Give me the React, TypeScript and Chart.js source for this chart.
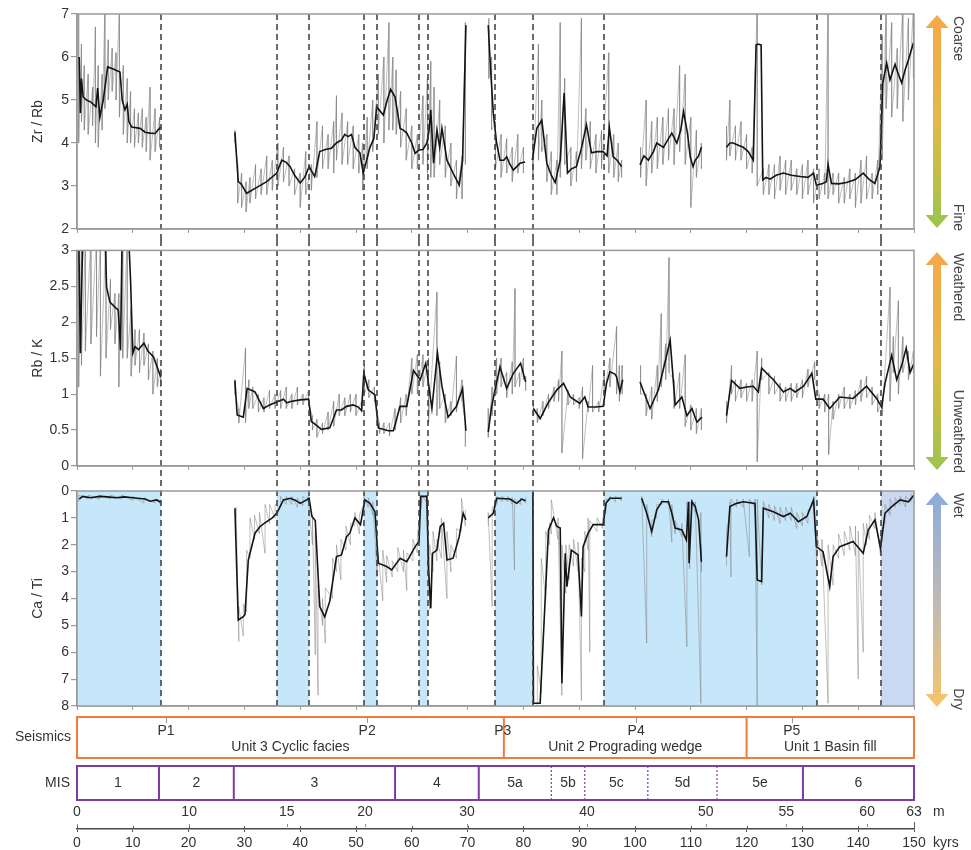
import React, { useEffect, useRef } from 'react';
import { Chart, registerables } from 'chart.js';

Chart.register(...registerables);

const FONT = "'Liberation Sans', Arial, Helvetica, sans-serif";
const TXT = '#333333';
const AXIS = '#9a9a9a';

type P = [number, number | null];
type R = [number, number | null, number | null];

// ---------- Zr / Rb (kyrs, value) ----------
const ZR_RB_LINE: P[] = [
  [0.4, 6.0], [0.6, 4.7], [0.8, 5.5], [1.1, 5.07], [1.7, 5.0], [2.5, 4.95], [3.4, 4.84], [3.7, 5.28], [4.1, 4.6], [4.7, 5.0],
  [5.5, 5.77], [6.5, 5.72], [7.7, 5.65], [8.1, 5.0], [8.6, 4.77], [9.0, 4.9], [9.3, 4.5], [9.8, 4.37], [11.3, 4.34], [12.2, 4.25],
  [13.1, 4.23], [14.0, 4.22], [14.5, 4.3], [15.0, 4.37],
  [20, null],
  [28.3, 4.25], [28.9, 3.1], [29.4, 3.05], [30.4, 2.83], [32, 2.95], [34, 3.1], [35.8, 3.3], [36.7, 3.6], [37.5, 3.55], [38.2, 3.45],
  [39, 3.25], [40, 3.07], [40.8, 3.2], [41.6, 3.45], [42.6, 3.22], [43.5, 3.8], [44.5, 3.85], [45.6, 3.88], [46.5, 4.0], [47.4, 4.07],
  [48.0, 4.2], [48.6, 4.15], [49.2, 4.2], [49.8, 3.9], [50.7, 3.77], [51.3, 3.3], [52.5, 3.9], [53.2, 4.1], [53.7, 4.84], [54.9, 4.65],
  [55.6, 5.0], [56.2, 5.25], [57, 5.07], [57.9, 4.34], [58.5, 4.3], [59.1, 4.23], [60.0, 4.0], [60.6, 3.76], [61.3, 3.84], [62.0, 3.85],
  [62.7, 4.0], [63.1, 4.3], [63.4, 4.77], [63.9, 3.53], [64.5, 4.3], [65.0, 3.9], [65.4, 4.34], [66.3, 3.6], [67.4, 3.3], [68.5, 3.02],
  [69.1, 3.6], [69.7, 6.74],
  [71, null],
  [73.7, 6.74], [74.0, 6.0], [74.1, 5.77], [74.6, 4.7], [75.2, 4.0], [75.8, 3.6], [76.5, 3.6], [77.0, 3.68], [77.6, 3.5], [78.2, 3.37],
  [78.8, 3.45], [79.4, 3.53], [80.3, 3.56],
  [81, null],
  [81.6, 3.6], [82.4, 4.34], [83.3, 4.53], [84.2, 3.53], [85.0, 3.25], [85.7, 3.08], [86.6, 3.6], [87.3, 5.16], [87.9, 3.3], [88.6, 3.4],
  [89.5, 3.45], [90.4, 3.88], [91.3, 4.42], [92.2, 3.77], [93.2, 3.8], [94.3, 3.8], [95.0, 3.7], [95.4, 4.37], [96.1, 3.68], [96.8, 3.6],
  [97.6, 3.45],
  [99, null],
  [100.9, 3.49], [101.6, 3.7], [102.4, 3.6], [103.3, 3.8], [103.9, 4.0], [105.1, 3.9], [106.0, 4.1], [106.6, 4.23], [107.5, 4.0], [108.2, 4.3],
  [108.7, 4.73], [109.4, 4.23], [109.9, 3.68], [110.4, 3.45], [110.8, 3.6], [111.4, 3.7], [111.9, 3.9],
  [114, null],
  [116.4, 3.9], [117.0, 4.0], [117.6, 4.0], [118.5, 3.95], [119.4, 3.9], [120.3, 3.8], [121.2, 3.6], [121.7, 6.28], [122.0, 6.3], [122.6, 6.28],
  [122.9, 3.14], [123.5, 3.2], [124.2, 3.16], [125.3, 3.25], [126.6, 3.3], [128.0, 3.25], [129.6, 3.22], [131.0, 3.2], [132.0, 3.3], [132.5, 3.02],
  [133.5, 3.05], [134.3, 3.1], [134.6, 3.5], [135.2, 3.06], [136.5, 3.05], [137.9, 3.08], [139.5, 3.15], [140.9, 3.3], [142.0, 3.15], [143.0, 3.06],
  [143.9, 3.45], [144.4, 5.39], [145.1, 5.86], [145.7, 5.47], [146.6, 5.83], [147.2, 5.6], [147.8, 5.4], [148.4, 5.7], [149.0, 5.93], [149.9, 6.33],
];

// raw Zr/Rb scan: (kyrs, low, high)
const ZR_RB_RAW: R[] = [
  [0.3, 4.0, 7.2], [0.8, 4.5, 6.3], [1.3, 4.3, 5.8], [2.0, 4.2, 5.6], [2.8, 4.4, 5.3], [3.3, 4.0, 6.7], [3.8, 3.9, 5.8], [4.5, 4.3, 5.6],
  [5.0, 4.8, 7.2], [5.6, 5.0, 6.4], [6.3, 5.2, 6.2], [7.0, 5.0, 6.1], [7.6, 4.6, 7.2], [8.3, 4.2, 5.8], [9.0, 4.0, 5.5], [9.6, 4.0, 5.2],
  [10.3, 3.9, 4.8], [11.0, 4.0, 4.7], [11.7, 3.9, 4.8], [12.4, 3.8, 4.6], [13.1, 3.6, 5.3], [14.0, 3.8, 4.8], [14.8, 3.9, 4.6],
  [20, null, null],
  [28.3, 4.0, 4.3], [28.8, 2.6, 3.5], [29.5, 2.5, 3.3], [30.3, 2.4, 3.1], [31.0, 2.6, 3.2], [32.0, 2.7, 3.5], [33.0, 2.8, 3.4], [34.0, 2.8, 3.7],
  [35.0, 2.9, 3.6], [36.0, 3.0, 4.0], [37.0, 3.1, 3.9], [38.0, 3.0, 3.7], [39.0, 2.8, 3.4], [40.0, 2.5, 3.3], [41.0, 2.8, 3.8], [42.0, 2.9, 3.5],
  [43.0, 3.2, 4.5], [44.0, 3.4, 4.4], [45.0, 3.4, 4.2], [46.0, 3.3, 4.5], [46.5, 3.6, 5.1], [47.5, 3.5, 4.7], [48.5, 3.5, 4.5], [49.5, 3.4, 4.4],
  [50.5, 3.3, 4.2], [51.2, 2.9, 4.0], [52.0, 3.4, 4.6], [53.0, 3.8, 5.0], [54.0, 4.2, 5.6], [55.0, 4.0, 6.0], [55.9, 4.3, 6.8], [56.6, 4.3, 6.0],
  [57.2, 4.2, 5.7], [58.0, 3.9, 5.2], [59.0, 3.6, 4.8], [60.0, 3.4, 4.4], [61.0, 3.4, 4.2], [62.0, 3.5, 5.1], [62.8, 3.3, 5.5], [63.4, 3.2, 5.9],
  [64.0, 3.2, 5.3], [65.0, 3.5, 5.0], [66.0, 3.2, 4.4], [67.0, 3.0, 4.0], [68.0, 2.7, 3.6], [69.0, 2.7, 3.7], [69.6, 3.5, 6.8],
  [71, null, null],
  [73.8, 5.5, 6.9], [74.3, 4.3, 6.0], [75.0, 3.4, 4.5], [76.0, 3.2, 4.2], [77.0, 3.3, 4.1], [78.0, 3.1, 3.9], [79.0, 3.3, 4.2], [80.0, 3.3, 3.9],
  [81, null, null],
  [81.7, 3.2, 4.1], [82.7, 3.6, 6.3], [83.3, 3.8, 5.0], [84.2, 3.1, 4.2], [85.0, 2.8, 3.8], [86.0, 2.8, 3.6], [86.6, 3.2, 6.8], [87.4, 3.5, 5.5],
  [88.5, 3.0, 3.9], [89.5, 3.1, 3.8], [90.4, 3.4, 6.9], [91.2, 3.6, 4.8], [92.0, 3.4, 4.5], [93.0, 3.3, 4.2], [94.0, 3.4, 4.3], [95.3, 3.3, 6.1],
  [96.2, 3.2, 4.2], [97.0, 3.1, 4.0], [97.6, 3.2, 3.6],
  [99, null, null],
  [101.0, 3.2, 3.9], [102.0, 3.0, 5.0], [103.0, 3.3, 4.5], [104.0, 3.4, 4.6], [105.0, 3.5, 4.6], [106.0, 3.6, 4.8], [107.0, 3.5, 4.8],
  [108.0, 3.8, 5.8], [109.0, 3.5, 5.6], [110.0, 2.5, 4.6], [111.0, 3.2, 4.3], [111.9, 3.4, 4.0],
  [114, null, null],
  [116.4, 3.6, 4.4], [117.0, 3.7, 5.0], [118.0, 3.6, 4.4], [119.0, 3.6, 4.5], [120.0, 3.4, 4.2], [121.0, 3.3, 3.9], [121.9, 3.0, 7.2],
  [123.0, 2.8, 3.4], [124.0, 2.8, 3.5], [125.0, 2.7, 3.5], [126.0, 2.9, 3.7], [127.0, 2.8, 3.6], [128.0, 2.9, 3.6], [129.0, 2.8, 3.4],
  [130.0, 2.7, 3.5], [131.0, 2.8, 3.6], [132.0, 2.6, 3.4], [133.0, 2.7, 3.4], [134.0, 2.8, 3.3], [134.6, 2.7, 7.2], [135.5, 2.8, 3.3],
  [136.5, 2.6, 3.3], [137.5, 2.6, 3.2], [138.5, 2.7, 3.4], [139.5, 2.5, 3.3], [140.5, 2.6, 3.6], [141.5, 2.7, 3.7], [142.5, 2.7, 3.3],
  [143.5, 2.8, 3.6], [144.3, 3.6, 6.5], [145.0, 4.8, 7.2], [146.0, 4.6, 6.8], [147.0, 4.8, 6.2], [148.0, 4.5, 7.2], [149.0, 5.0, 6.9], [149.9, 5.5, 7.2],
];

// ---------- Rb / K ----------
const RB_K_LINE: P[] = [
  [0.3, 3.3], [0.6, 1.57], [0.9, 2.7], [1.1, 3.3], [3.0, 3.4], [5.0, 3.3], [5.3, 2.49], [5.9, 2.28], [6.8, 2.21], [7.4, 2.17],
  [7.8, 1.61], [8.1, 3.3], [9.2, 3.3], [9.6, 2.58], [10.0, 1.57], [10.4, 1.66], [11.0, 1.62], [12.0, 1.71], [12.7, 1.6], [13.7, 1.52], [15.0, 1.24],
  [20, null],
  [28.3, 1.19], [28.7, 0.71], [29.8, 0.68], [30.5, 1.08], [31.9, 1.03], [33.4, 0.8], [34.5, 0.85], [35.8, 0.89], [37.0, 0.93], [37.6, 0.88],
  [38.5, 0.9], [40.0, 0.92], [41.5, 0.93], [42.0, 0.62], [42.7, 0.58], [43.8, 0.51], [45.3, 0.53], [46.5, 0.78], [47.4, 0.78], [48.3, 0.83],
  [49.5, 0.85], [50.4, 0.82], [51.0, 0.77], [51.4, 1.29], [52.2, 1.06], [53.4, 0.99], [54.0, 0.53], [55.8, 0.49], [56.7, 0.49], [57.9, 0.83],
  [59.1, 0.83], [60.3, 1.33], [61.5, 1.2], [62.5, 1.43], [63.6, 0.8], [64.6, 1.57], [65.4, 1.11], [66.5, 0.68], [68.0, 0.83], [69.1, 1.08], [69.7, 0.49],
  [71, null],
  [73.7, 0.47], [74.3, 0.83], [75.8, 1.38], [77.0, 1.08], [78.2, 1.29], [79.5, 1.43], [80.4, 1.17],
  [81, null],
  [81.8, 0.8], [83.0, 0.66], [84.5, 0.89], [86.0, 1.06], [87.2, 1.15], [88.4, 0.96], [90.1, 0.87], [91.0, 0.96], [91.6, 0.82], [93.0, 0.82],
  [94.3, 0.83], [94.9, 1.15], [95.5, 1.31], [96.4, 1.28], [96.7, 1.24], [97.3, 1.03], [97.8, 1.2],
  [99, null],
  [100.9, 1.17], [102.7, 0.8], [104.2, 1.06], [105.4, 1.45], [106.3, 1.75], [107.2, 0.85], [108.4, 0.96], [109.3, 0.7], [110.2, 0.8], [111.1, 0.61], [112.0, 0.68],
  [114, null],
  [116.4, 0.7], [117.3, 1.19], [118.8, 1.08], [120.0, 1.1], [121.2, 1.11], [122.1, 1.03], [122.7, 1.36], [124.8, 1.2], [126.6, 1.03], [127.8, 1.08],
  [128.7, 1.03], [130.2, 1.11], [131.7, 1.29], [132.4, 0.93], [133.7, 0.93], [134.9, 0.8], [136.7, 0.96], [139.1, 0.94], [141.5, 1.11], [143.3, 0.94],
  [144.2, 0.82], [144.8, 1.15], [146.0, 1.54], [146.9, 1.2], [147.8, 1.4], [148.6, 1.64], [149.3, 1.3], [150.0, 1.43],
];

const RB_K_RAW: R[] = [
  [0.3, 1.1, 3.2], [0.8, 1.4, 3.2], [1.5, 1.6, 3.2], [2.5, 1.7, 3.2], [3.5, 1.8, 3.2], [4.2, 1.25, 3.2], [5.2, 1.5, 3.2], [6.0, 1.9, 2.6],
  [6.8, 1.7, 2.4], [7.5, 1.1, 2.4], [8.2, 1.5, 3.2], [9.0, 1.5, 3.2], [9.7, 1.25, 2.2], [10.4, 1.4, 1.9], [11.2, 1.3, 1.9], [12.0, 1.4, 1.85],
  [12.8, 1.2, 1.7], [13.6, 1.0, 1.6], [14.4, 1.1, 1.5], [15.0, 1.1, 1.35],
  [20, null, null],
  [28.3, 1.0, 1.2], [29.0, 0.6, 0.8], [30.2, 0.6, 1.64], [30.8, 0.8, 1.2], [31.5, 0.8, 1.1], [32.5, 0.75, 1.0], [33.5, 0.75, 0.95], [34.5, 0.8, 1.05],
  [35.5, 0.8, 1.0], [36.5, 0.8, 1.05], [37.5, 0.8, 1.1], [38.5, 0.8, 1.0], [39.5, 0.85, 1.1], [40.5, 0.85, 1.0], [41.5, 0.85, 1.05], [42.2, 0.5, 0.7],
  [43.0, 0.4, 0.65], [44.0, 0.45, 0.6], [45.0, 0.5, 0.75], [46.0, 0.55, 0.9], [47.0, 0.7, 1.0], [48.0, 0.7, 0.95], [49.0, 0.75, 1.0], [50.0, 0.7, 1.0],
  [51.0, 0.75, 0.9], [51.5, 1.0, 1.4], [52.3, 0.95, 1.2], [53.3, 0.9, 1.1], [54.2, 0.45, 0.6], [55.0, 0.45, 0.6], [56.0, 0.42, 0.6], [57.0, 0.5, 0.8],
  [58.0, 0.6, 0.95], [59.0, 0.7, 1.0], [60.0, 1.0, 1.5], [61.0, 1.0, 1.55], [62.0, 1.1, 1.55], [63.0, 0.6, 1.5], [64.5, 0.7, 2.42], [65.0, 0.8, 1.45],
  [66.0, 0.6, 1.0], [67.0, 0.7, 0.9], [68.0, 0.75, 1.53], [69.0, 0.9, 1.2], [69.6, 0.27, 0.6],
  [71, null, null],
  [73.7, 0.4, 0.8], [74.4, 0.7, 1.1], [75.2, 1.0, 1.5], [76.0, 1.1, 1.5], [77.0, 0.95, 1.3], [78.0, 1.0, 1.45], [78.5, 1.1, 2.47], [79.3, 1.1, 1.3],
  [80.0, 1.2, 1.5], [80.4, 1.05, 1.25],
  [81, null, null],
  [81.8, 0.7, 0.9], [82.5, 0.6, 0.8], [83.5, 0.7, 0.9], [84.5, 0.8, 1.0], [85.5, 0.9, 1.1], [86.3, 0.9, 1.2], [86.9, 0.18, 1.6], [88.0, 0.85, 1.05],
  [89.0, 0.85, 1.0], [90.0, 0.8, 0.95], [90.6, 0.1, 1.1], [91.6, 0.75, 0.9], [92.4, 0.75, 1.4], [93.5, 0.75, 0.9], [94.5, 1.0, 1.3], [95.5, 1.1, 1.5],
  [96.7, 1.0, 1.94], [97.2, 0.9, 1.4], [97.7, 1.0, 1.4],
  [99, null, null],
  [101.0, 1.0, 1.4], [102.0, 0.7, 1.0], [103.0, 0.65, 1.1], [104.0, 0.9, 1.4], [104.7, 1.1, 2.12], [105.5, 1.2, 1.7], [106.1, 1.3, 2.9], [107.0, 0.8, 1.2],
  [108.0, 0.8, 1.3], [109.0, 0.55, 1.55], [110.0, 0.5, 0.85], [111.0, 0.45, 0.8], [111.9, 0.5, 0.8],
  [114, null, null],
  [116.4, 0.6, 0.9], [117.3, 1.0, 1.4], [118.0, 0.9, 1.2], [119.0, 0.95, 1.2], [120.0, 0.9, 1.15], [121.0, 0.9, 1.2], [121.9, 0.06, 1.6], [122.7, 1.2, 1.5],
  [124.0, 1.0, 1.3], [125.0, 1.0, 1.25], [126.0, 0.9, 1.15], [127.0, 0.9, 1.1], [128.0, 0.9, 1.15], [129.0, 0.95, 1.15], [130.0, 0.95, 1.2], [131.0, 1.1, 1.35],
  [132.2, 1.2, 1.45], [133.0, 0.8, 1.0], [134.0, 0.75, 1.0], [134.7, 0.16, 1.0], [135.5, 0.65, 0.9], [136.5, 0.8, 1.0], [137.5, 0.8, 1.1], [138.5, 0.8, 1.0],
  [139.5, 0.85, 1.05], [140.5, 0.9, 1.2], [141.5, 0.95, 1.25], [142.5, 0.85, 1.1], [143.5, 0.75, 1.0], [144.3, 0.7, 0.9], [145.7, 0.9, 2.49], [146.3, 1.3, 1.8],
  [147.2, 1.0, 2.3], [148.0, 1.3, 1.8], [149.0, 1.2, 1.6], [149.9, 1.3, 1.6],
];

// ---------- Ca / Ti ----------
const CA_TI_LINE: P[] = [
  [0.4, 0.3], [1.0, 0.2], [2.5, 0.25], [4.0, 0.2], [5.5, 0.22], [7.0, 0.25], [8.5, 0.22], [10.0, 0.25], [11.3, 0.28], [12.2, 0.3],
  [13.1, 0.38], [14.3, 0.33], [15.0, 0.42],
  [20, null],
  [28.3, 0.64], [28.9, 4.8], [29.8, 4.68], [30.1, 4.6], [30.7, 2.57], [31.9, 1.57], [32.8, 1.32], [34.0, 1.14], [35.0, 1.0], [35.8, 0.83],
  [37.0, 0.33], [38.2, 0.27], [39.2, 0.35], [40.0, 0.46], [41.0, 0.35], [41.6, 0.27], [42.1, 0.95], [42.7, 1.1], [43.5, 4.3], [44.4, 4.68],
  [45.3, 4.1], [46.5, 2.44], [47.4, 2.38], [48.3, 1.7], [48.9, 1.57], [49.8, 1.0], [50.8, 1.25], [51.6, 0.33], [52.5, 0.46], [53.4, 0.77],
  [54.0, 2.69], [55.5, 2.81], [56.4, 2.94], [57.9, 2.5], [59.1, 2.63], [60.6, 2.07], [61.3, 1.88], [61.6, 0.2], [62.7, 0.2], [63.0, 2.94],
  [63.4, 4.36], [63.7, 2.32], [64.5, 2.2], [65.1, 1.32], [65.7, 1.2], [66.3, 2.57], [67.4, 2.5], [68.5, 1.7], [69.2, 0.83], [69.7, 1.07],
  [71, null],
  [73.7, 1.0], [74.6, 0.83], [75.2, 0.27], [77.6, 0.3], [78.8, 0.46], [79.7, 0.3], [80.4, 0.36],
  [81, null],
  [81.7, 0.05], [81.8, 7.9], [83.0, 7.9], [84.5, 1.45], [85.4, 1.0], [86.0, 1.32], [86.6, 1.38], [86.9, 7.15], [87.5, 2.32], [87.8, 3.56],
  [88.6, 2.2], [89.8, 2.38], [90.4, 4.67], [90.7, 2.07], [91.6, 1.57], [92.5, 1.25], [94.3, 1.25], [94.8, 0.46], [95.5, 0.27], [97.6, 0.27],
  [99, null],
  [101.2, 0.27], [102.1, 0.83], [103.0, 1.51], [103.9, 0.7], [104.8, 0.4], [106.0, 0.4], [106.6, 0.83], [107.2, 1.38], [108.4, 1.45], [109.2, 1.82],
  [109.6, 0.4], [109.7, 2.69], [110.2, 0.4], [110.8, 0.58], [111.4, 1.07], [111.9, 2.63],
  [114, null],
  [116.4, 2.44], [117.0, 0.58], [118.2, 0.46], [119.4, 0.4], [121.5, 0.46], [121.9, 3.31], [122.7, 3.37], [123.0, 0.64], [124.8, 0.77], [126.6, 0.95],
  [127.8, 0.83], [129.3, 1.14], [130.8, 0.95], [132.0, 0.33], [132.5, 2.07], [133.7, 2.26], [134.9, 3.56], [135.5, 2.44], [136.7, 2.07], [139.1, 1.88],
  [140.9, 2.32], [141.8, 1.45], [143.0, 1.07], [144.0, 2.13], [144.8, 0.83], [146.0, 0.58], [147.5, 0.33], [149.0, 0.4], [150.0, 0.15],
];

const CA_TI_RAW: R[] = [
  [0.3, 0.15, 0.4], [2.0, 0.15, 0.3], [4.0, 0.15, 0.3], [6.0, 0.15, 0.3], [8.0, 0.15, 0.3], [10.0, 0.2, 0.35], [12.0, 0.25, 0.45], [14.0, 0.3, 0.45], [15.0, 0.35, 0.5],
  [20, null, null],
  [28.5, 0.6, 1.0], [29.0, 4.3, 5.6], [29.8, 4.2, 5.4], [30.4, 2.2, 4.5], [31.0, 1.0, 2.5], [31.8, 0.9, 1.8], [32.7, 0.8, 1.6], [33.7, 0.5, 2.32],
  [34.5, 0.5, 1.2], [35.5, 0.5, 1.0], [36.5, 0.2, 0.6], [37.5, 0.2, 0.5], [38.5, 0.2, 0.5], [39.5, 0.25, 0.6], [40.5, 0.2, 0.55], [41.4, 0.2, 0.4],
  [42.2, 0.9, 2.0], [42.7, 1.5, 6.1], [43.2, 3.5, 7.6], [44.0, 4.0, 5.0], [44.5, 3.6, 5.66], [45.8, 2.5, 4.0], [46.5, 2.0, 3.0], [47.3, 1.8, 3.3],
  [48.2, 1.3, 2.2], [49.0, 1.2, 2.0], [49.8, 0.8, 1.3], [50.6, 0.9, 1.6], [51.4, 0.2, 0.5], [52.2, 0.25, 0.6], [53.0, 0.4, 0.9], [53.8, 2.0, 3.2],
  [54.8, 2.2, 4.08], [55.5, 2.4, 3.4], [56.5, 2.6, 3.2], [57.5, 2.1, 3.0], [58.5, 2.2, 3.0], [59.1, 2.3, 3.7], [60.2, 1.8, 2.6], [61.0, 1.6, 2.3],
  [61.8, 0.15, 0.4], [62.6, 0.15, 0.4], [63.2, 2.0, 4.4], [63.8, 1.5, 3.0], [64.5, 1.8, 2.6], [65.3, 1.0, 2.5], [66.3, 1.5, 4.0], [67.0, 2.0, 3.0],
  [68.0, 1.4, 2.5], [68.9, 0.27, 1.5], [69.6, 0.7, 1.3],
  [71, null, null],
  [73.7, 0.8, 1.3], [74.4, 0.6, 4.3], [75.3, 0.2, 0.5], [76.2, 0.2, 0.4], [77.2, 0.2, 0.4], [78.0, 0.25, 0.5], [78.4, 0.3, 2.94], [79.5, 0.25, 0.5], [80.4, 0.25, 0.45],
  [81, null, null],
  [82.5, 6.5, 8.0], [83.2, 2.5, 7.5], [84.0, 1.5, 4.0], [84.7, 1.2, 2.0], [85.0, 0.33, 1.6], [86.2, 1.0, 1.8], [86.9, 2.0, 7.6], [87.6, 2.0, 3.8],
  [88.2, 2.0, 3.3], [89.0, 1.8, 2.8], [89.8, 1.9, 3.0], [90.4, 2.5, 7.8], [91.0, 1.5, 3.0], [91.6, 1.0, 2.2], [91.9, 1.1, 6.0], [93.2, 1.0, 1.5],
  [94.2, 1.0, 1.4], [94.8, 0.3, 0.8], [95.5, 0.2, 0.35], [96.5, 0.2, 0.4], [97.6, 0.2, 0.35],
  [99, null, null],
  [101.2, 0.2, 0.4], [102.1, 0.5, 5.66], [103.0, 1.1, 1.7], [103.9, 0.5, 1.0], [104.8, 0.3, 0.5], [106.0, 0.3, 0.5], [106.6, 0.5, 1.9], [107.2, 1.1, 1.6],
  [108.4, 1.2, 1.7], [109.3, 0.4, 5.8], [109.8, 0.4, 2.9], [110.2, 0.3, 0.6], [110.8, 0.4, 0.8], [111.8, 0.8, 7.9], [111.9, 2.0, 3.0],
  [114, null, null],
  [116.4, 1.5, 2.8], [117.0, 0.4, 0.8], [117.2, 0.3, 3.2], [118.2, 0.3, 0.6], [119.4, 0.3, 0.6], [120.5, 0.3, 2.44], [121.5, 0.3, 0.6], [121.9, 0.3, 8.0],
  [122.7, 3.0, 3.5], [123.0, 0.4, 0.8], [124.0, 0.5, 1.0], [125.0, 0.55, 1.1], [126.0, 0.6, 1.2], [127.0, 0.6, 1.1], [128.0, 0.6, 1.1], [129.0, 0.8, 1.4],
  [130.0, 0.8, 1.3], [131.0, 0.7, 1.2], [132.0, 0.2, 0.5], [132.6, 1.5, 2.8], [133.5, 1.8, 2.8], [134.6, 2.0, 7.9], [135.5, 2.0, 3.5], [136.5, 1.6, 2.5],
  [137.5, 1.5, 2.4], [138.5, 1.3, 2.2], [139.5, 1.3, 2.4], [140.0, 1.5, 7.0], [140.9, 1.2, 6.0], [141.5, 1.2, 2.0], [142.0, 0.9, 1.8], [143.0, 0.8, 1.4],
  [144.0, 1.5, 2.4], [144.8, 0.5, 1.2], [145.7, 0.3, 0.9], [146.6, 0.25, 0.6], [147.5, 0.2, 0.5], [148.5, 0.2, 0.6], [149.5, 0.1, 0.4],
];

// ---------- annotations ----------
const DASH_KYR = [15.05, 35.8, 41.6, 51.4, 53.8, 61.3, 62.9, 74.9, 81.7, 94.4, 132.6, 144.1];
const WET_SHADE: [number, number][] = [[0, 15.05], [35.8, 41.6], [51.4, 53.8], [61.3, 62.9], [74.9, 81.7], [94.4, 132.6]];
const WET_SHADE_2: [number, number][] = [[144.1, 150]];

const SEIS_DIV = [0, 76.5, 120, 150];
const SEIS_UNITS = ['Unit 3 Cyclic facies', 'Unit 2 Prograding wedge', 'Unit 1 Basin fill'];
const SEIS_P = ['P1', 'P2', 'P3', 'P4', 'P5'];
const SEIS_P_KYR = [15.95, 52.0, 76.3, 100.2, 128.1];

const MIS_BOUND = [0, 14.7, 28.1, 57.0, 72.0, 85.0, 91.0, 102.3, 114.7, 130.1, 150];
const MIS_DOTTED = [false, false, false, false, true, true, true, true, false];
const MIS_LABELS = ['1', '2', '3', '4', '5a', '5b', '5c', '5d', '5e', '6'];

const M_TICK_KYR = [0, 20.1, 37.6, 51.6, 69.9, 91.4, 112.7, 127.1, 141.6, 150];
const M_LABELS = ['0', '10', '15', '20', '30', '40', '50', '55', '60', '63'];

const pts = (a: P[]) => a.map(([x, y]) => ({ x, y }));
// raw scan drawn as a sawtooth: each reading runs high -> low at its depth
const saw = (a: R[]) => {
  const out: { x: number; y: number | null }[] = [];
  a.forEach(([x, lo, hi]) => {
    if (lo == null) { out.push({ x, y: null }); return; }
    out.push({ x, y: hi }, { x, y: lo });
  });
  return out;
};

function drawArrow(ctx: CanvasRenderingContext2D, cx: number, y1: number, y2: number, stops: [number, string][]) {
  const g = ctx.createLinearGradient(0, y1, 0, y2);
  stops.forEach(([o, c]) => g.addColorStop(o, c));
  ctx.fillStyle = g;
  const hw = 11.5, sw = 4, hl = 13;
  ctx.beginPath();
  ctx.moveTo(cx, y1);
  ctx.lineTo(cx + hw, y1 + hl);
  ctx.lineTo(cx + sw, y1 + hl);
  ctx.lineTo(cx + sw, y2 - hl);
  ctx.lineTo(cx + hw, y2 - hl);
  ctx.lineTo(cx, y2);
  ctx.lineTo(cx - hw, y2 - hl);
  ctx.lineTo(cx - sw, y2 - hl);
  ctx.lineTo(cx - sw, y1 + hl);
  ctx.lineTo(cx - hw, y1 + hl);
  ctx.closePath();
  ctx.fill();
}

function vText(ctx: CanvasRenderingContext2D, text: string, x: number, y: number, align: CanvasTextAlign) {
  ctx.save();
  ctx.translate(x, y);
  ctx.rotate(Math.PI / 2);
  ctx.textAlign = align;
  ctx.textBaseline = 'middle';
  ctx.fillText(text, 0, 0);
  ctx.restore();
}

type PanelOpt = {
  line: P[]; raw: R[]; min: number; max: number; step: number; reverse: boolean; title: string;
  padTop: number; padBottom: number; dashTop: 'area' | 'edge'; dashBottom: 'area' | 'edge'; shade: boolean;
  arrow: { y1: number; y2: number; top: string; bottom: string; stops: [number, string][] };
};

function panelConfig(o: PanelOpt): any {
  const plugin = {
    id: 'panelDecor',
    beforeDatasetsDraw(chart: any) {
      if (!o.shade) return;
      const { ctx, chartArea: ca, scales: { x } } = chart;
      ctx.save();
      ctx.fillStyle = '#c6e6f9';
      WET_SHADE.forEach(([a, b]) => {
        const x1 = x.getPixelForValue(a), x2 = x.getPixelForValue(b);
        ctx.fillRect(x1, ca.top, x2 - x1, ca.bottom - ca.top);
      });
      ctx.fillStyle = '#c8d9f1';
      WET_SHADE_2.forEach(([a, b]) => {
        const x1 = x.getPixelForValue(a), x2 = x.getPixelForValue(b);
        ctx.fillRect(x1, ca.top, x2 - x1, ca.bottom - ca.top);
      });
      ctx.restore();
    },
    afterDatasetsDraw(chart: any) {
      const { ctx, chartArea: ca, scales: { x } } = chart;
      const y0 = o.dashTop === 'area' ? ca.top : 0;
      const y1 = o.dashBottom === 'area' ? ca.bottom : chart.height;
      ctx.save();
      ctx.strokeStyle = '#3a3a3a';
      ctx.lineWidth = 1.5;
      ctx.setLineDash([6, 4]);
      DASH_KYR.forEach((k) => {
        const px = Math.round(x.getPixelForValue(k));
        ctx.beginPath();
        ctx.moveTo(px, y0);
        ctx.lineTo(px, y1);
        ctx.stroke();
      });
      ctx.restore();
    },
    afterDraw(chart: any) {
      const { ctx, chartArea: ca } = chart;
      ctx.save();
      ctx.strokeStyle = AXIS;
      ctx.lineWidth = 1.5;
      ctx.strokeRect(ca.left, ca.top, ca.right - ca.left, ca.bottom - ca.top);
      drawArrow(ctx, 937, o.arrow.y1, o.arrow.y2, o.arrow.stops);
      ctx.fillStyle = '#444';
      ctx.font = `14px ${FONT}`;
      vText(ctx, o.arrow.top, 958, o.arrow.y1 + 1, 'left');
      vText(ctx, o.arrow.bottom, 958, o.arrow.y2 + 3, 'right');
      ctx.restore();
    },
  };
  return {
    type: 'line',
    data: {
      datasets: [
        { data: saw(o.raw), borderColor: 'rgba(130,130,130,0.5)', borderWidth: 1, pointRadius: 0, spanGaps: false, order: 2 },
        { data: pts(o.line), borderColor: '#141414', borderWidth: 1.6, pointRadius: 0, spanGaps: false, order: 1 },
      ],
    },
    options: {
      responsive: false,
      animation: false,
      devicePixelRatio: 1,
      events: [],
      layout: { padding: { left: 0, right: 57, top: o.padTop, bottom: o.padBottom } },
      plugins: { legend: { display: false }, tooltip: { enabled: false } },
      scales: {
        x: {
          type: 'linear', min: 0, max: 150, position: 'bottom',
          ticks: { display: false, stepSize: 10 },
          grid: { display: true, drawOnChartArea: false, drawTicks: true, tickLength: 4, color: AXIS, lineWidth: 1 },
          border: { display: true, color: AXIS, width: 1.5 },
          afterFit: (s: any) => { s.height = 0; },
        },
        y: {
          type: 'linear', min: o.min, max: o.max, reverse: o.reverse,
          ticks: { stepSize: o.step, font: { family: FONT, size: 14 }, color: TXT, padding: 2, callback: (v: any) => String(Number(v)) },
          grid: { drawOnChartArea: false, drawTicks: true, tickLength: 6, color: AXIS, lineWidth: 1.2 },
          border: { display: true, color: AXIS, width: 1.5 },
          title: { display: true, text: o.title, font: { family: FONT, size: 14 }, color: TXT, padding: { top: 30, bottom: 0 } },
          afterFit: (s: any) => { s.width = 77; },
        },
      },
    },
    plugins: [plugin],
  };
}

const WARM: [number, string][] = [[0, '#f6a849'], [0.5, '#e3b946'], [1, '#9bc54d']];
const WET: [number, string][] = [[0, '#8aacdc'], [0.5, '#bdbab5'], [1, '#f8c468']];

function bottomConfig(): any {
  const plugin = {
    id: 'bottomDecor',
    afterDraw(chart: any) {
      const { ctx, chartArea: ca, scales: { x } } = chart;
      const px = (v: number) => x.getPixelForValue(v);
      ctx.save();
      ctx.font = `14px ${FONT}`;
      ctx.fillStyle = TXT;
      ctx.textBaseline = 'middle';

      // Seismics box
      const sTop = ca.top, sBot = ca.top + 41;
      ctx.strokeStyle = '#f07b3a';
      ctx.lineWidth = 2;
      ctx.strokeRect(px(0), sTop, px(150) - px(0), sBot - sTop);
      SEIS_DIV.slice(1, -1).forEach((v) => {
        ctx.beginPath(); ctx.moveTo(px(v), sTop); ctx.lineTo(px(v), sBot); ctx.stroke();
      });
      ctx.strokeStyle = '#999';
      ctx.lineWidth = 1;
      ctx.textAlign = 'center';
      SEIS_P.forEach((p, i) => {
        const xx = Math.round(px(SEIS_P_KYR[i])) + 0.5;
        ctx.beginPath(); ctx.moveTo(xx, sTop + 1); ctx.lineTo(xx, sTop + 6); ctx.stroke();
        ctx.fillText(p, px(SEIS_P_KYR[i]), sTop + 14);
      });
      SEIS_UNITS.forEach((u, i) => {
        ctx.fillText(u, (px(SEIS_DIV[i]) + px(SEIS_DIV[i + 1])) / 2, sTop + 30);
      });

      // MIS box
      const mTop = ca.bottom - 34, mBot = ca.bottom;
      ctx.strokeStyle = '#7b3d9f';
      ctx.lineWidth = 2;
      ctx.strokeRect(px(0), mTop, px(150) - px(0), mBot - mTop);
      MIS_BOUND.slice(1, -1).forEach((v, i) => {
        ctx.save();
        if (MIS_DOTTED[i]) { ctx.setLineDash([2, 2]); ctx.lineWidth = 1.2; }
        ctx.beginPath(); ctx.moveTo(px(v), mTop); ctx.lineTo(px(v), mBot); ctx.stroke();
        ctx.restore();
      });
      MIS_LABELS.forEach((l, i) => {
        ctx.fillText(l, (px(MIS_BOUND[i]) + px(MIS_BOUND[i + 1])) / 2, (mTop + mBot) / 2);
      });

      // row labels
      ctx.textAlign = 'right';
      ctx.fillText('Seismics', 71, (sTop + sBot) / 2);
      ctx.fillText('MIS', 70, (mTop + mBot) / 2);

      // depth tick marks
      ctx.strokeStyle = '#888';
      ctx.lineWidth = 1;
      M_TICK_KYR.forEach((v) => {
        const xx = Math.round(px(v)) + 0.5;
        ctx.beginPath(); ctx.moveTo(xx, ca.bottom + 24); ctx.lineTo(xx, ca.bottom + 27); ctx.stroke();
      });
      // short upward ticks on the age axis
      ctx.strokeStyle = '#555';
      for (let v = 0; v <= 150; v += 10) {
        const xx = Math.round(px(v)) + 0.5;
        ctx.beginPath(); ctx.moveTo(xx, ca.bottom + (v === 150 ? 22 : 26)); ctx.lineTo(xx, ca.bottom + 29); ctx.stroke();
      }

      ctx.textAlign = 'left';
      ctx.fillText('m', 933, ca.bottom + 12.5);
      ctx.fillText('kyrs', 933, ca.bottom + 43.5);
      ctx.restore();
    },
  };
  return {
    type: 'line',
    data: { datasets: [] },
    options: {
      responsive: false,
      animation: false,
      devicePixelRatio: 1,
      events: [],
      layout: { padding: { left: 77, right: 57, top: 11, bottom: 0 } },
      plugins: { legend: { display: false }, tooltip: { enabled: false } },
      scales: {
        y: { display: false, min: 0, max: 1 },
        xm: {
          type: 'linear', position: 'bottom', min: 0, max: 150, weight: 0,
          afterBuildTicks: (s: any) => { s.ticks = M_TICK_KYR.map((v) => ({ value: v })); },
          ticks: { callback: (_v: any, i: number) => M_LABELS[i], font: { family: FONT, size: 14 }, color: TXT, padding: 4, maxRotation: 0, autoSkip: false },
          grid: { display: false, drawTicks: false },
          border: { display: false },
          afterFit: (s: any) => { s.height = 29; },
        },
        x: {
          type: 'linear', position: 'bottom', min: 0, max: 150, weight: 1,
          ticks: { stepSize: 10, font: { family: FONT, size: 14 }, color: TXT, padding: 3, maxRotation: 0, autoSkip: false },
          grid: { display: true, drawOnChartArea: false, drawTicks: true, tickLength: 3, color: '#555', lineWidth: 1 },
          border: { display: true, color: '#4a4a4a', width: 1.5 },
          afterFit: (s: any) => { s.height = 21; },
        },
      },
    },
    plugins: [plugin],
  };
}

export default function App() {
  const a = useRef<HTMLCanvasElement>(null);
  const b = useRef<HTMLCanvasElement>(null);
  const c = useRef<HTMLCanvasElement>(null);
  const d = useRef<HTMLCanvasElement>(null);

  useEffect(() => {
    Chart.defaults.font.family = FONT;
    const charts: Chart[] = [];
    charts.push(new Chart(a.current!, panelConfig({
      line: ZR_RB_LINE, raw: ZR_RB_RAW, min: 2, max: 7, step: 1, reverse: false, title: 'Zr / Rb',
      padTop: 14, padBottom: 11, dashTop: 'area', dashBottom: 'edge', shade: false,
      arrow: { y1: 15, y2: 228, top: 'Coarse', bottom: 'Fine', stops: WARM },
    })));
    charts.push(new Chart(b.current!, panelConfig({
      line: RB_K_LINE, raw: RB_K_RAW, min: 0, max: 3, step: 0.5, reverse: false, title: 'Rb / K',
      padTop: 10, padBottom: 14, dashTop: 'edge', dashBottom: 'edge', shade: false,
      arrow: { y1: 12, y2: 230, top: 'Weathered', bottom: 'Unweathered', stops: WARM },
    })));
    charts.push(new Chart(c.current!, panelConfig({
      line: CA_TI_LINE, raw: CA_TI_RAW, min: 0, max: 8, step: 1, reverse: true, title: 'Ca / Ti',
      padTop: 11, padBottom: 14, dashTop: 'edge', dashBottom: 'area', shade: true,
      arrow: { y1: 12, y2: 227, top: 'Wet', bottom: 'Dry', stops: WET },
    })));
    charts.push(new Chart(d.current!, bottomConfig()));
    return () => charts.forEach((ch) => ch.destroy());
  }, []);

  const cv = (top: number, h: number): React.CSSProperties => ({ position: 'absolute', left: 0, top, width: 971, height: h });
  return (
    <div style={{ position: 'absolute', left: 0, top: 0, width: 971, height: 850, background: '#fff', overflow: 'hidden' }}>
      <canvas ref={a} width={971} height={240} style={cv(0, 240)} />
      <canvas ref={b} width={971} height={240} style={cv(240, 240)} />
      <canvas ref={c} width={971} height={240} style={cv(480, 240)} />
      <canvas ref={d} width={971} height={144} style={cv(706, 144)} />
    </div>
  );
}
